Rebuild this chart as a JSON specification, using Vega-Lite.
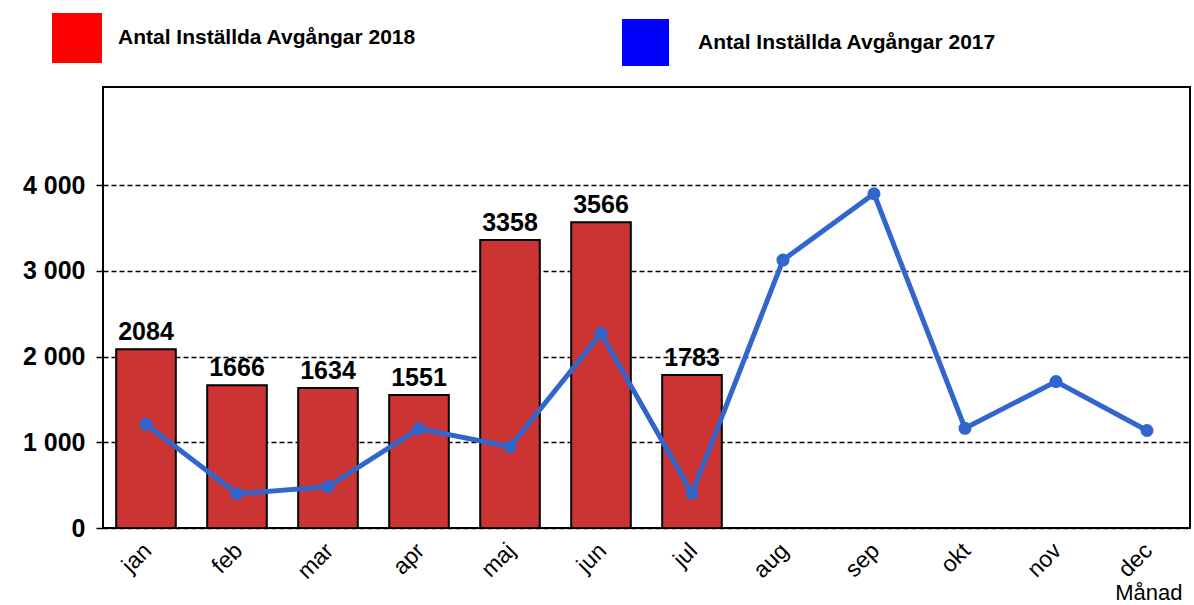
{
  "$schema": "https://vega.github.io/schema/vega-lite/v6.json",
  "autosize": {"type": "none"},
  "width": 1087,
  "height": 441,
  "padding": {"left": 103, "top": 87, "right": 4, "bottom": 77},
  "background": "white",
  "config": {
    "font": "Liberation Sans",
    "view": {"stroke": "black", "strokeWidth": 2}
  },
  "data": {
    "values": [
      {"month": "jan", "v2018": 2084, "v2017": 1209},
      {"month": "feb", "v2018": 1666, "v2017": 400},
      {"month": "mar", "v2018": 1634, "v2017": 482},
      {"month": "apr", "v2018": 1551, "v2017": 1158},
      {"month": "maj", "v2018": 3358, "v2017": 948},
      {"month": "jun", "v2018": 3566, "v2017": 2270},
      {"month": "jul", "v2018": 1783, "v2017": 404},
      {"month": "aug", "v2018": null, "v2017": 3125},
      {"month": "sep", "v2018": null, "v2017": 3898},
      {"month": "okt", "v2018": null, "v2017": 1163},
      {"month": "nov", "v2018": null, "v2017": 1708},
      {"month": "dec", "v2018": null, "v2017": 1137}
    ]
  },
  "encoding": {
    "x": {
      "field": "month",
      "type": "ordinal",
      "sort": null,
      "scale": {"paddingInner": 0.345, "paddingOuter": 0.145},
      "axis": {
        "title": "Månad",
        "titleFont": "Liberation Sans",
        "titleFontSize": 22,
        "titleFontWeight": "normal",
        "titleColor": "black",
        "titleAlign": "right",
        "titleAnchor": "end",
        "titleX": 1079,
        "titleY": 71,
        "titleBaseline": "alphabetic",
        "labelAngle": -45,
        "labelFontSize": 23,
        "labelColor": "black",
        "labelPadding": 11,
        "labelOffset": -6,
        "ticks": false,
        "domain": false,
        "grid": false
      }
    }
  },
  "layer": [
    {
      "transform": [{"filter": "datum.v2018 != null"}],
      "mark": {"type": "bar", "fill": "#cc3333", "stroke": "black", "strokeWidth": 2},
      "encoding": {
        "y": {
          "field": "v2018",
          "type": "quantitative",
          "scale": {"domain": [0, 5143], "nice": false},
          "axis": {
            "title": null,
            "values": [0, 1000, 2000, 3000, 4000],
            "labelExpr": "datum.value == 0 ? '0' : format(datum.value / 1000, 'd') + ' 000'",
            "labelFontSize": 25,
            "labelFontWeight": "bold",
            "labelColor": "black",
            "labelPadding": 11,
            "tickColor": "black",
            "tickSize": 7,
            "tickWidth": 1.5,
            "domain": false,
            "grid": true,
            "gridColor": "black",
            "gridWidth": 1.3,
            "gridDash": [5, 3],
            "gridOpacity": 1
          }
        }
      }
    },
    {
      "transform": [{"filter": "false"}],
      "mark": {"type": "bar"},
      "encoding": {
        "y": {"field": "v2018", "type": "quantitative"},
        "fill": {
          "datum": "Antal Inställda Avgångar 2018",
          "type": "nominal",
          "scale": {"range": ["#ff0000"]},
          "legend": {
            "orient": "none",
            "legendX": -51,
            "legendY": -74,
            "title": null,
            "padding": 0,
            "symbolType": "square",
            "symbolSize": 2500,
            "symbolStrokeWidth": 0,
            "symbolOpacity": 1,
            "labelFontSize": 21,
            "labelFontWeight": "bold",
            "labelColor": "black",
            "labelOffset": 16,
            "labelLimit": 0
          }
        }
      }
    },
    {
      "transform": [{"filter": "false"}],
      "mark": {"type": "square", "filled": true},
      "encoding": {
        "y": {"field": "v2017", "type": "quantitative"},
        "color": {
          "datum": "Antal Inställda Avgångar 2017",
          "type": "nominal",
          "scale": {"range": ["#0000ff"]},
          "legend": {
            "orient": "none",
            "legendX": 519,
            "legendY": -68,
            "title": null,
            "padding": 0,
            "symbolType": "square",
            "symbolSize": 2209,
            "symbolStrokeWidth": 0,
            "symbolOpacity": 1,
            "labelFontSize": 21,
            "labelFontWeight": "bold",
            "labelColor": "black",
            "labelOffset": 29,
            "labelLimit": 0
          }
        }
      }
    },
    {
      "mark": {"type": "line", "color": "#3366cc", "strokeWidth": 5, "point": {"filled": true, "size": 170, "color": "#3366cc"}},
      "encoding": {
        "y": {"field": "v2017", "type": "quantitative"}
      }
    },
    {
      "transform": [{"filter": "datum.v2018 != null"}],
      "mark": {"type": "text", "fontSize": 25, "fontWeight": "bold", "color": "black", "baseline": "alphabetic", "dy": -9},
      "encoding": {
        "y": {"field": "v2018", "type": "quantitative"},
        "text": {"field": "v2018", "type": "quantitative", "format": "d"}
      }
    }
  ]
}
